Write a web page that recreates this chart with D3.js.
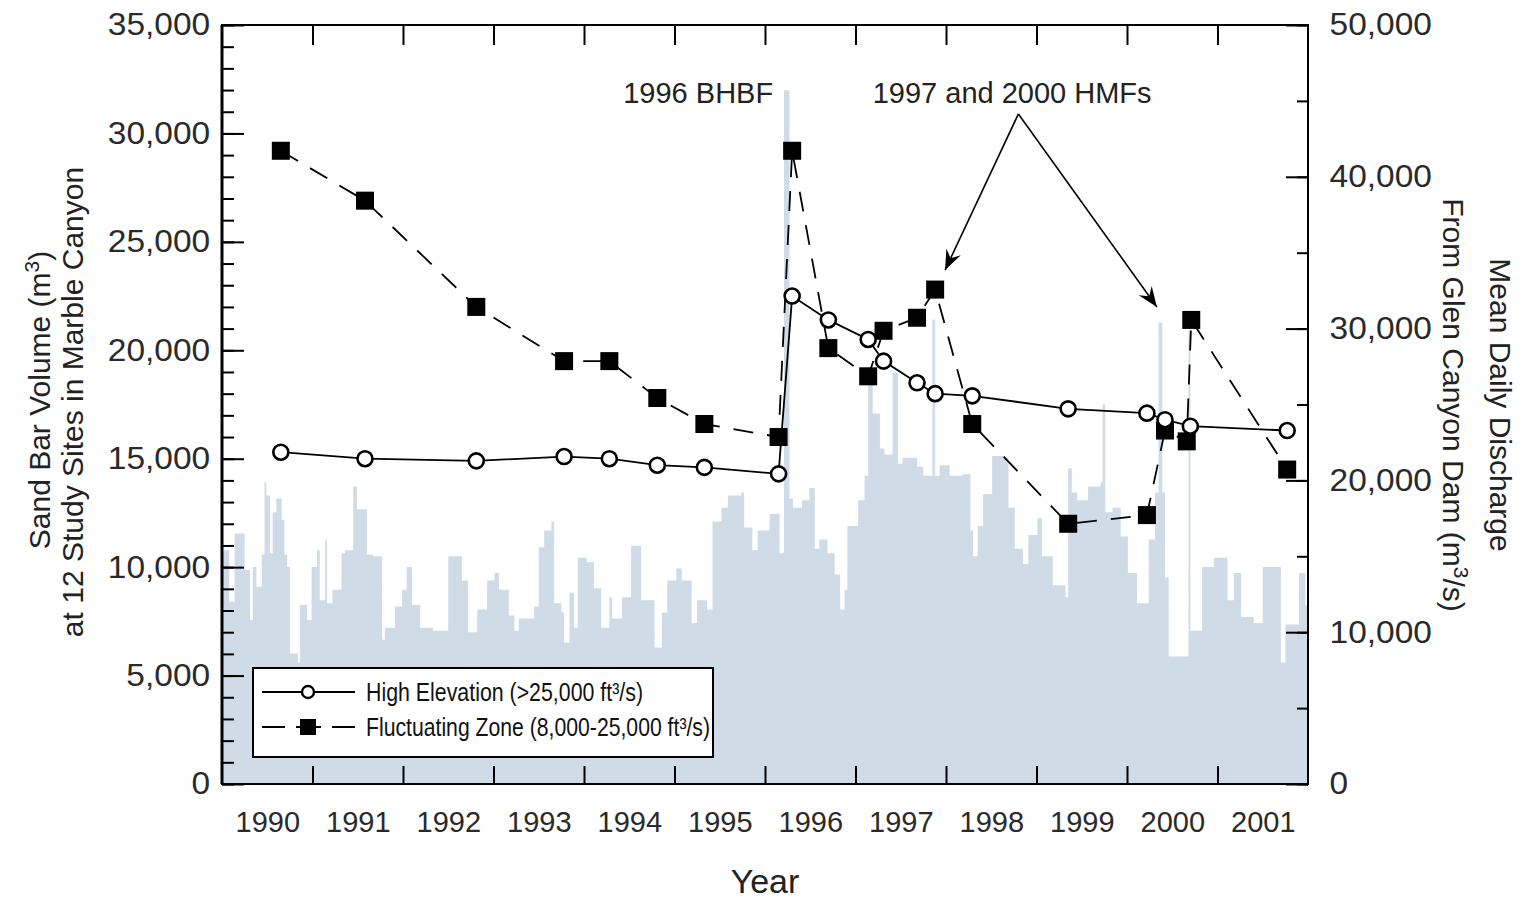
<!DOCTYPE html>
<html>
<head>
<meta charset="utf-8">
<script src="https://cdn.jsdelivr.net/npm/d3@7"></script>
<style>
  body { margin: 0; background: #fff; }
  text { font-family: "Liberation Sans", Arial, Helvetica, sans-serif; }
</style>
</head>
<body>
<svg id="chart" width="1523" height="904"></svg>
<script>
// ---------------- DATA ----------------
// Survey dates (decimal year) and sand bar volumes (m3)
const highYears = [1990.65, 1991.58, 1992.81, 1993.78, 1994.28, 1994.81, 1995.33, 1996.15, 1996.30, 1996.70,
                   1997.14, 1997.31, 1997.68, 1997.88, 1998.29, 1999.35, 2000.22, 2000.42, 2000.70, 2001.77];
const highValues = [15300, 15000, 14900, 15100, 15000, 14700, 14600, 14300, 22500, 21400,
                    20500, 19500, 18500, 18000, 17900, 17300, 17100, 16800, 16500, 16300];

const fluctYears = [1990.65, 1991.58, 1992.81, 1993.78, 1994.28, 1994.81, 1995.33, 1996.15, 1996.30, 1996.70,
                    1997.14, 1997.31, 1997.68, 1997.88, 1998.29, 1999.35, 2000.22, 2000.42, 2000.66, 2000.71, 2001.77];
const fluctValues = [29200, 26900, 22000, 19500, 19500, 17800, 16600, 16000, 29200, 20100,
                     18800, 20900, 21500, 22800, 16600, 12000, 12400, 16300, 15800, 21400, 14500];

// Mean daily discharge from Glen Canyon Dam (read as steps: start date, value)
const dischargeYears = [
  1990.00,1990.08,1990.14,1990.25,1990.31,1990.34,1990.38,1990.44,1990.47,1990.49,1990.53,1990.56,1990.60,1990.66,1990.69,1990.72,1990.75,1990.84,1990.86,1990.94,
  1990.99,1991.05,1991.08,1991.14,1991.16,1991.22,1991.32,1991.36,1991.45,1991.49,1991.60,1991.67,1991.77,1991.80,1991.91,1991.99,
  1992.04,1992.10,1992.19,1992.33,1992.50,1992.65,1992.72,1992.82,1992.93,
  1993.01,1993.06,1993.17,1993.23,1993.28,1993.45,1993.50,1993.56,1993.64,1993.67,1993.75,1993.78,1993.84,1993.89,1993.93,
  1994.03,1994.11,1994.19,1994.28,1994.31,1994.42,1994.52,1994.63,1994.78,1994.86,1994.92,
  1995.02,1995.08,1995.19,1995.25,1995.36,1995.42,1995.52,1995.59,1995.74,1995.77,1995.86,1995.92,
  1996.05,1996.16,1996.21,1996.27,1996.31,1996.41,1996.49,1996.55,1996.60,1996.69,1996.77,1996.83,1996.88,1996.91,
  1997.03,1997.10,1997.14,1997.19,1997.27,1997.32,1997.41,1997.47,1997.52,1997.68,1997.75,1997.85,1997.88,1997.93,
  1998.04,1998.18,1998.27,1998.30,1998.35,1998.41,1998.51,1998.63,1998.69,1998.76,1998.85,1998.91,
  1999.01,1999.06,1999.18,1999.32,1999.35,1999.39,1999.45,1999.57,1999.71,1999.73,1999.76,1999.84,1999.93,
  2000.01,2000.11,2000.24,2000.31,2000.35,2000.39,2000.42,2000.46,2000.68,2000.70,2000.83,2000.96,
  2001.11,2001.18,2001.26,2001.40,2001.50,2001.70,2001.75,2001.90,2001.97,2002.00];
const dischargeValues = [
  15400,12000,16500,14100,10800,14300,13000,15100,19900,19000,15200,17900,18800,17400,15100,14300,8600,8000,11800,10800,
  14300,15400,12100,16100,11900,12800,15200,15400,19600,18100,15100,15000,9500,10300,11700,12800,
  14300,11800,10300,10100,15000,13400,10000,11500,13400,
  13900,12800,11100,10100,10900,11700,15600,16700,17300,11900,11300,9300,12600,10300,14900,
  14600,12900,10300,12300,10900,12300,15700,12100,9000,11300,13400,
  14200,13400,10600,12100,11500,17300,18200,19000,19200,16900,15400,16700,
  17800,15200,45700,18800,18200,18700,19500,15500,16100,15200,13800,11500,12800,17000,
  18700,20300,26800,24400,22100,21700,27100,21100,21500,20900,20300,30600,20300,21000,
  20300,20400,16700,15000,17000,19100,21600,21500,18200,15500,14500,16400,
  17500,15000,13100,12300,20800,19200,18700,19600,19900,25000,17900,18200,16300,
  13900,11900,16100,19200,30400,19200,13600,8400,29900,10100,14300,14900,
  12100,13900,11000,10600,14300,8000,10500,13900,11800,11800];

const leftTicks = [0, 5000, 10000, 15000, 20000, 25000, 30000, 35000];
const rightTicks = [0, 10000, 20000, 30000, 40000, 50000];
const yearLabels = [1990, 1991, 1992, 1993, 1994, 1995, 1996, 1997, 1998, 1999, 2000, 2001];

// ---------------- CHART ----------------
const svg = d3.select("#chart");
const L = 222, R = 1308, T = 25, B = 784;
const x = d3.scaleLinear().domain([1990, 2002]).range([L, R]);
const y = d3.scaleLinear().domain([0, 35000]).range([B, T]);
const y2 = d3.scaleLinear().domain([0, 50000]).range([B, T]);

// discharge area
const dis = dischargeYears.map((d, i) => [d, dischargeValues[i]]);
svg.append("path")
  .datum(dis)
  .attr("fill", "#cfdbe6")
  .attr("d", d3.area().x(d => x(d[0])).y0(y2(0)).y1(d => y2(d[1])).curve(d3.curveStepAfter));

// axes helpers
function clean(g) { g.select(".domain").remove(); g.selectAll("line").attr("stroke", "#000").attr("stroke-width", 2); }
function labelStyle(g) {
  g.selectAll("text").attr("font-size", 31).attr("fill", "#2a2a2a")
    .attr("font-family", "Liberation Sans, Arial, sans-serif")
    .attr("transform", "scale(1.08,1)");
}

// left axis
svg.append("g").attr("transform", `translate(${L},0)`)
  .call(d3.axisLeft(y).tickValues(d3.range(0, 35001, 1000)).tickSize(-12).tickFormat(""))
  .call(clean);
svg.append("g").attr("transform", `translate(${L},0)`)
  .call(d3.axisLeft(y).tickValues(leftTicks).tickSizeInner(-22).tickSizeOuter(0).tickPadding(11).tickFormat(d3.format(",")))
  .call(clean)
  .call(labelStyle);

// right axis
svg.append("g").attr("transform", `translate(${R},0)`)
  .call(d3.axisRight(y2).tickValues(d3.range(0, 50001, 5000)).tickSize(-11).tickFormat(""))
  .call(clean);
svg.append("g").attr("transform", `translate(${R},0)`)
  .call(d3.axisRight(y2).tickValues(rightTicks).tickSizeInner(-22).tickSizeOuter(0).tickPadding(20).tickFormat(d3.format(",")))
  .call(clean)
  .call(labelStyle);

// top axis ticks
svg.append("g").attr("transform", `translate(0,${T})`)
  .call(d3.axisTop(x).tickValues(d3.range(1991, 2002)).tickSize(-20).tickFormat(""))
  .call(clean);
// bottom axis ticks
svg.append("g").attr("transform", `translate(0,${B})`)
  .call(d3.axisBottom(x).tickValues(d3.range(1991, 2002)).tickSize(-18).tickFormat(""))
  .call(clean);
// bottom labels (centered in each year)
svg.append("g").attr("transform", `translate(0,${B})`)
  .call(d3.axisBottom(x).tickValues(yearLabels.map(v => v + 0.5)).tickSize(0).tickPadding(27).tickFormat(d => String(Math.floor(d))))
  .call(g => g.select(".domain").remove())
  .call(g => g.selectAll("text").attr("font-size", 29).attr("fill", "#2a2a2a").attr("font-family", "Liberation Sans, Arial, sans-serif"));

// frame
svg.append("rect").attr("x", L).attr("y", T).attr("width", R - L).attr("height", B - T)
  .attr("fill", "none").attr("stroke", "#000").attr("stroke-width", 2);
svg.append("line").attr("x1", L).attr("x2", L).attr("y1", T).attr("y2", B).attr("stroke", "#000").attr("stroke-width", 3);

// series lines
const fl = fluctYears.map((d, i) => [d, fluctValues[i]]);
const hl = highYears.map((d, i) => [d, highValues[i]]);
const line = d3.line().x(d => x(d[0])).y(d => y(d[1]));
svg.append("path").datum(fl).attr("d", line).attr("fill", "none").attr("stroke", "#000")
  .attr("stroke-width", 1.8).attr("stroke-dasharray", "20,14");
svg.append("path").datum(hl).attr("d", line).attr("fill", "none").attr("stroke", "#000").attr("stroke-width", 1.8);

// markers
svg.append("g").selectAll("rect").data(fl).join("rect")
  .attr("x", d => x(d[0]) - 9).attr("y", d => y(d[1]) - 9).attr("width", 18).attr("height", 18).attr("fill", "#000");
svg.append("g").selectAll("circle").data(hl).join("circle")
  .attr("cx", d => x(d[0])).attr("cy", d => y(d[1])).attr("r", 7.5)
  .attr("fill", "#fff").attr("stroke", "#000").attr("stroke-width", 2.6);

// annotations
svg.append("text").attr("x", x(1996.09)).attr("y", y(31400)).attr("text-anchor", "end")
  .attr("font-size", 29).attr("fill", "#222").text("1996 BHBF");
svg.append("text").attr("x", x(1997.19)).attr("y", y(31400)).attr("text-anchor", "start")
  .attr("font-size", 29).attr("fill", "#222").text("1997 and 2000 HMFs");

const defs = svg.append("defs");
defs.append("marker").attr("id", "arr").attr("viewBox", "-20 -10 22 20").attr("refX", 0).attr("refY", 0)
  .attr("markerWidth", 22).attr("markerHeight", 20).attr("markerUnits", "userSpaceOnUse").attr("orient", "auto")
  .append("path").attr("d", "M0,0 L-20,-8 L-13,0 L-20,8 Z").attr("fill", "#000");
const arrowStart = [1998.80, 30900];
const arrowEnds = [[1997.99, 23700], [2000.33, 22000]];
arrowEnds.forEach(e => {
  svg.append("line").attr("x1", x(arrowStart[0])).attr("y1", y(arrowStart[1]))
    .attr("x2", x(e[0])).attr("y2", y(e[1])).attr("stroke", "#000").attr("stroke-width", 1.6)
    .attr("marker-end", "url(#arr)");
});

// legend
const lg = svg.append("g");
lg.append("rect").attr("x", 253).attr("y", 668).attr("width", 460).attr("height", 89)
  .attr("fill", "#fff").attr("stroke", "#000").attr("stroke-width", 2);
lg.append("line").attr("x1", 262).attr("x2", 355).attr("y1", 692).attr("y2", 692).attr("stroke", "#000").attr("stroke-width", 1.8);
lg.append("circle").attr("cx", 308).attr("cy", 692).attr("r", 6).attr("fill", "#fff").attr("stroke", "#000").attr("stroke-width", 2.4);
lg.append("line").attr("x1", 262).attr("x2", 355).attr("y1", 727).attr("y2", 727).attr("stroke", "#000").attr("stroke-width", 1.8)
  .attr("stroke-dasharray", "23,11,25,11,23");
lg.append("rect").attr("x", 300).attr("y", 719).attr("width", 16).attr("height", 16).attr("fill", "#000");
lg.append("text").attr("x", 366).attr("y", 701).attr("font-size", 25).attr("fill", "#111")
  .attr("textLength", 277).attr("lengthAdjust", "spacingAndGlyphs").text("High Elevation (>25,000 ft³/s)");
lg.append("text").attr("x", 366).attr("y", 736).attr("font-size", 25).attr("fill", "#111")
  .attr("textLength", 344).attr("lengthAdjust", "spacingAndGlyphs").text("Fluctuating Zone (8,000-25,000 ft³/s)");

// axis titles
svg.append("text").attr("x", (L + R) / 2).attr("y", 893).attr("text-anchor", "middle")
  .attr("font-size", 34).attr("fill", "#222").text("Year");

const lt1 = svg.append("text").attr("transform", "translate(50,400) rotate(-90)").attr("text-anchor", "middle")
  .attr("font-size", 30).attr("fill", "#222");
lt1.append("tspan").text("Sand Bar Volume (m");
lt1.append("tspan").attr("dy", -11).attr("font-size", 21).text("3");
lt1.append("tspan").attr("dy", 11).text(")");
svg.append("text").attr("transform", "translate(83,402) rotate(-90)").attr("text-anchor", "middle")
  .attr("font-size", 30).attr("fill", "#222").text("at 12 Study Sites in Marble Canyon");

svg.append("text").attr("transform", "translate(1490,405) rotate(90)").attr("text-anchor", "middle")
  .attr("font-size", 30).attr("fill", "#222").text("Mean Daily Discharge");
const rt2 = svg.append("text").attr("transform", "translate(1443,405) rotate(90)").attr("text-anchor", "middle")
  .attr("font-size", 30).attr("fill", "#222");
rt2.append("tspan").text("From Glen Canyon Dam (m");
rt2.append("tspan").attr("dy", -11).attr("font-size", 21).text("3");
rt2.append("tspan").attr("dy", 11).text("/s)");
</script>
</body>
</html>
